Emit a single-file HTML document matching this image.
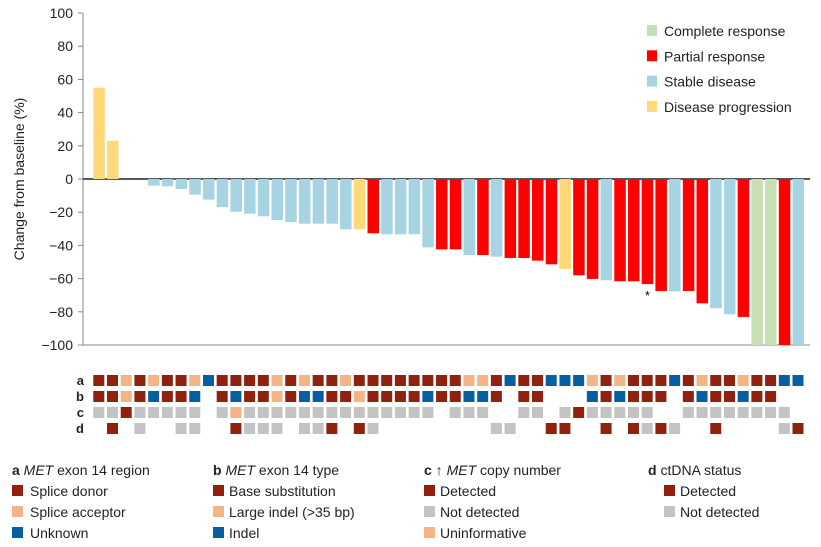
<!DOCTYPE html>
<html><head><meta charset="utf-8"><style>
body{margin:0;background:#fff;}
svg{display:block;font-family:"Liberation Sans",sans-serif;}
</style></head><body>
<svg id="chart" width="821" height="547">
<g id="axis"></g><g id="bars"></g><g id="grid"></g><g id="legends"></g>
</svg>
<script>
const values=[55,23,null,null,-4,-4.4,-6,-9.4,-12.4,-16.9,-19.7,-20.9,-22.5,-24.7,-25.9,-26.9,-26.9,-26.9,-30.3,-30.3,-32.7,-33.3,-33.3,-33.3,-41.2,-42.4,-42.4,-45.8,-45.8,-46.8,-47.6,-47.6,-49.2,-51.4,-54.2,-58,-60.2,-61,-61.6,-61.6,-63.3,-67.5,-67.7,-67.5,-74.9,-77.9,-81.5,-83.1,-100,-100,-100,-100];
const responses="PP..SSSSSSSSSSSSSSSPRSSSSRRSRSRRRRPRRSRRRRSRRSSRCCRS";
const rowA="DDLDLDDLBDDDDLDLDDLDDDDDDDDLLDBDDBBBLDLDDDBDLDDLDDBB";
const rowB="DDLDBDDB.DBDDLDBBDDLDDDDBDDBBD.DD...BDBDDD.DBDDBDD..";
const rowC="GGDGGGGG.GLGGGGGGGGGGGGGG.GGG..GG.GDGGGGG..GGGGGGGG.";
const rowD=".D.G..GG..DGGG.GGD.DG........GG..DD..D.DGDG..D....GD";
const yTicks=[100,80,60,40,20,0,-20,-40,-60,-80,-100];
const respColor={C:"#c7dfb5",R:"#ff0000",S:"#a6d4e2",P:"#fed879"};
const cellColor={D:"#92200e",L:"#f4b486",B:"#0560a3",G:"#c3c3c3"};
const NS="http://www.w3.org/2000/svg";
const x0=93.3,pitch=13.71,bw=11.5;
const y=v=>179-v*1.66;
const xc=i=>x0+i*pitch;
function mk(p,tag,attrs,text){const e=document.createElementNS(NS,tag);for(const k in attrs)e.setAttribute(k,attrs[k]);if(text!=null)e.textContent=text;p.appendChild(e);return e;}
const ax=document.getElementById('axis');
let l=mk(ax,'line',{x1:83,y1:y(100),x2:83,y2:y(-100),stroke:'#888','stroke-width':1});


yTicks.forEach(t=>{
  mk(ax,'line',{x1:78,y1:y(t),x2:83,y2:y(t),stroke:'#888'});
  const tx=mk(ax,'text',{x:73,y:y(t)+5,'text-anchor':'end','font-size':14,fill:'#222'},t<0?'\u2212'+(-t):String(t));
  
  
});
const yt=mk(ax,'text',{x:0,y:0,transform:'translate(24,179) rotate(-90)','text-anchor':'middle','font-size':14,fill:'#222'},'Change from baseline (%)');


const bg=document.getElementById('bars');
values.forEach((v,i)=>{
  if(v==null)return;
  const r=mk(bg,'rect',{x:xc(i),y:Math.min(y(v),y(0)),width:bw,height:Math.abs(y(v)-y(0)),fill:respColor[responses[i]]});
  
  
});
mk(ax,'line',{x1:83,y1:y(-100),x2:810,y2:y(-100),stroke:'#888'});
const zl=mk(ax,'line',{x1:83,y1:y(0),x2:810,y2:y(0),stroke:'#222','stroke-width':1.5});


const st=mk(bg,'text',{x:xc(40)+bw/2,y:y(-63.3)+16,'text-anchor':'middle','font-size':13,fill:'#000'},'*');


const gg=document.getElementById('grid');
[rowA,rowB,rowC,rowD].forEach((row,r)=>{
  const top=375+r*16;
  const lb=mk(gg,'text',{x:84,y:top+10,'text-anchor':'end','font-size':13,'font-weight':'bold',fill:'#222'},'abcd'[r]);
  
  
  [...row].forEach((c,i)=>{
    if(c==='.')return;
    const cell=mk(gg,'rect',{x:xc(i),y:top,width:11,height:11,fill:cellColor[c]});
    
    
  });
});
const lg=document.getElementById('legends');
const topLeg=[["C","Complete response"],["R","Partial response"],["S","Stable disease"],["P","Disease progression"]];
topLeg.forEach((e,i)=>{
  const yy=31+i*25.3;
  mk(lg,'rect',{x:647,y:yy-6,width:10,height:11,fill:respColor[e[0]]});
  const t=mk(lg,'text',{x:664,y:yy+5,'font-size':14,fill:'#222'},e[1]);
  
  
});
const groups=[
 {x:12,tx:30,title:['a',' MET',' exon 14 region'],items:[["D","Splice donor"],["L","Splice acceptor"],["B","Unknown"]]},
 {x:213,tx:229,title:['b',' MET',' exon 14 type'],items:[["D","Base substitution"],["L","Large indel (>35 bp)"],["B","Indel"]]},
 {x:424,tx:440,title:['c',' \u2191 ','MET',' copy number'],items:[["D","Detected"],["G","Not detected"],["L","Uninformative"]]},
 {x:648,tx:680,sx:664,title:['d',' ctDNA status'],items:[["D","Detected"],["G","Not detected"]]}
];
groups.forEach(g=>{
  const t=mk(lg,'text',{x:g.x,y:475,'font-size':14,fill:'#222'});
  
  
  g.title.forEach((s,k)=>{
    const ts=mk(t,'tspan',{},s);
    if(k===0)ts.setAttribute('font-weight','bold');
    if(s.trim()==='MET')ts.setAttribute('font-style','italic');
  });
  g.items.forEach((it,k)=>{
    const yy=491+k*21;
    mk(lg,'rect',{x:g.sx||g.x,y:yy-6,width:11,height:11,fill:cellColor[it[0]]});
    const e=mk(lg,'text',{x:g.tx,y:yy+5,'font-size':14,fill:'#222'},it[1]);
    
    
  });
});
</script>
</body></html>
